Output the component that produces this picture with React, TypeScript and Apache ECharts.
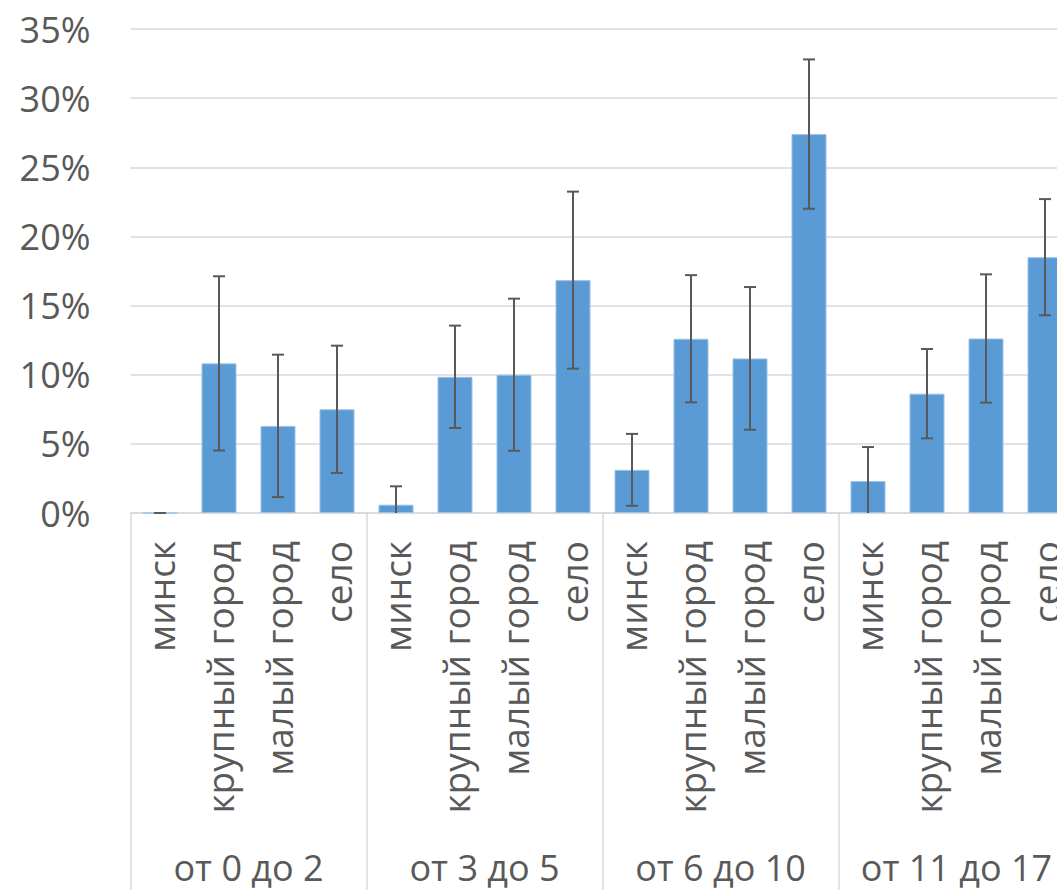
import React, { useEffect, useRef } from "react";
import * as echarts from "echarts";

const groups = ["от 0 до 2", "от 3 до 5", "от 6 до 10", "от 11 до 17"];
const places = ["минск", "крупный город", "малый город", "село"];
const categories = groups.flatMap(() => places);
// percent values per bar (group-major order)
const values = [0, 10.82, 6.3, 7.5, 0.6, 9.85, 10.0, 16.84, 3.12, 12.6, 11.18, 27.4, 2.31, 8.63, 12.62, 18.5];
// symmetric error (+/-) in percent
const errors = [0, 6.3, 5.15, 4.6, 1.33, 3.7, 5.5, 6.4, 2.6, 4.6, 5.16, 5.4, 2.46, 3.23, 4.64, 4.2];
const yTicks = [0, 5, 10, 15, 20, 25, 30, 35];

const FONT = "'Open Sans', 'Noto Sans', sans-serif";
const TEXT = "#595959";
const GRID = "#d9d9d9";

export default function App() {
  const ref = useRef<HTMLDivElement>(null);
  useEffect(() => {
    if (!ref.current) return;
    const chart = echarts.init(ref.current, undefined, { renderer: "svg" });
    chart.setOption({
      animation: false,
      grid: { left: 130.5, top: 29, width: 944, height: 484, containLabel: false },
      xAxis: [
        {
          type: "category",
          data: categories,
          axisLine: { lineStyle: { color: GRID, width: 1.5 } },
          axisTick: {
            show: true,
            interval: (i: number) => i % 4 === 0,
            length: 380,
            lineStyle: { color: GRID, width: 1.5 },
          },
          axisLabel: {
            interval: 0,
            rotate: 90,
            margin: 28,
            fontSize: 37,
            fontFamily: FONT,
            color: TEXT,
          },
        },
        {
          type: "category",
          data: groups,
          position: "bottom",
          axisLine: { show: false },
          axisTick: { show: false },
          axisLabel: {
            interval: 0,
            margin: 336,
            fontSize: 36,
            fontFamily: FONT,
            color: TEXT,
          },
        },
      ],
      yAxis: {
        type: "value",
        min: yTicks[0],
        max: yTicks[yTicks.length - 1],
        interval: 5,
        axisLine: { show: false },
        axisTick: { show: false },
        splitLine: { lineStyle: { color: GRID, width: 1.5 } },
        axisLabel: {
          formatter: (v: number) => v + "%",
          fontSize: 36,
          fontFamily: FONT,
          color: TEXT,
          margin: 40,
        },
      },
      series: [
        {
          type: "bar",
          data: values,
          barWidth: 35,
          itemStyle: { color: "#5B9BD5", borderColor: "#9cc2e8", borderWidth: 1 },
        },
        {
          type: "custom",
          data: values.map((v, i) => [i, v, errors[i]]),
          z: 5,
          renderItem: (params: any, api: any) => {
            const i = api.value(0);
            const v = api.value(1);
            const e = api.value(2);
            const hi = v + e;
            const loRaw = v - e;
            const lo = Math.max(0, loRaw);
            const pHi = api.coord([i, hi]);
            const pLo = api.coord([i, lo]);
            const x = pHi[0];
            const cap = 6;
            const style = { stroke: "#595959", lineWidth: 2 };
            const children: any[] = [
              { type: "line", shape: { x1: x, y1: pHi[1], x2: x, y2: pLo[1] }, style },
              { type: "line", shape: { x1: x - cap, y1: pHi[1], x2: x + cap, y2: pHi[1] }, style },
            ];
            if (loRaw >= 0) {
              children.push({ type: "line", shape: { x1: x - cap, y1: pLo[1], x2: x + cap, y2: pLo[1] }, style });
            }
            return { type: "group", children };
          },
        },
      ],
    });
    return () => chart.dispose();
  }, []);
  return (
    <div
      style={{ position: "absolute", left: 0, top: 0, width: 1057, height: 890, overflow: "hidden", background: "#fff" }}
    >
      <div ref={ref} style={{ width: 1110, height: 890 }} />
    </div>
  );
}
